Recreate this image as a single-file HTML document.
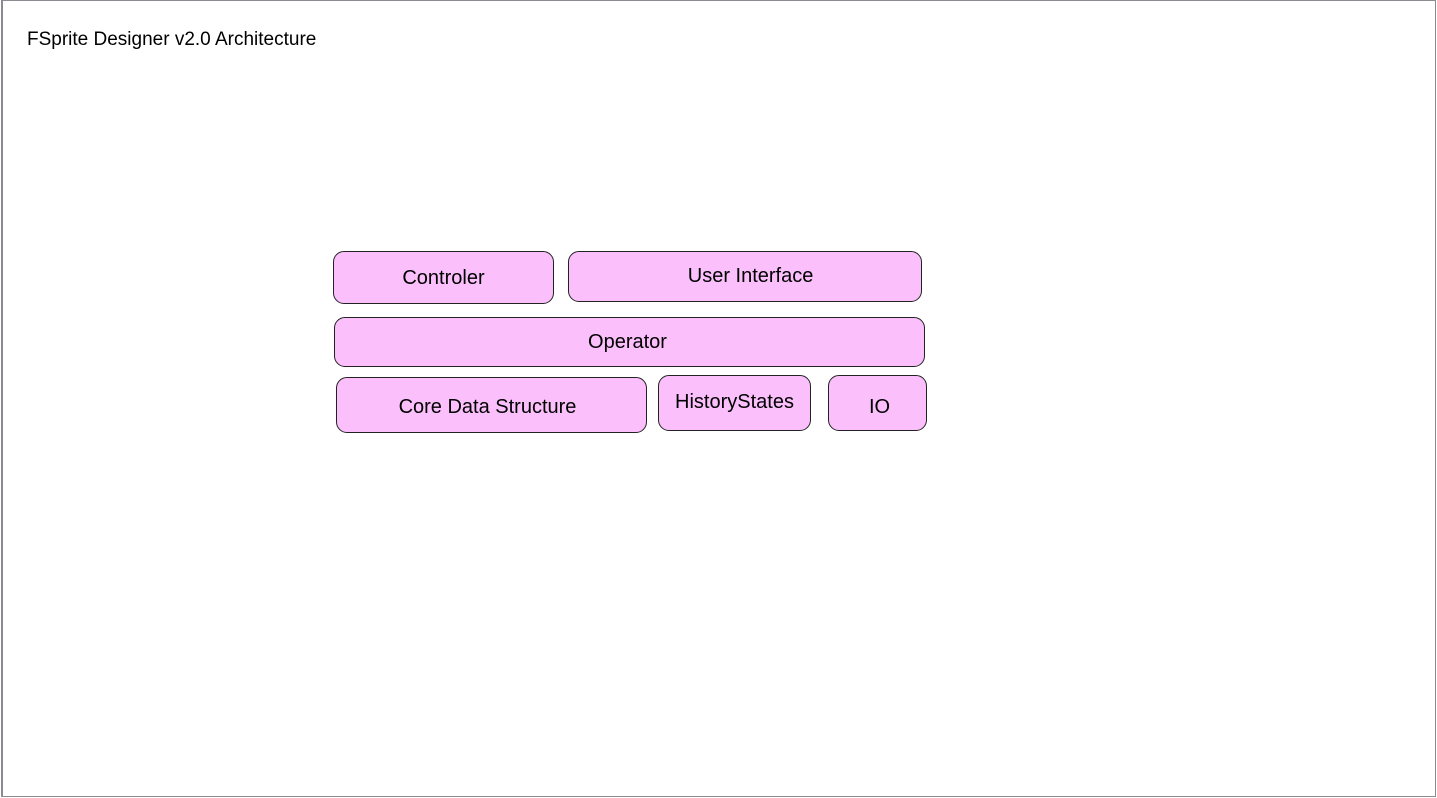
<!DOCTYPE html>
<html><head><style>
html,body{margin:0;padding:0;width:1437px;height:798px;background:#fff;overflow:hidden;position:relative;font-family:"Liberation Sans",sans-serif}
.frame{position:absolute;left:1px;top:0;width:1432px;height:795px;border:1px solid #8a8a90;border-left-width:2px;border-top-width:1px}
.t{position:absolute;left:27px;top:29px;font-size:19px;color:#000}
.b{position:absolute;box-sizing:border-box;background:#fbc0fb;border:1px solid #222;border-radius:11px;display:flex;align-items:center;justify-content:center;font-size:20px;color:#000}
</style></head><body>
<div class="frame"></div>
<div class="t">FSprite Designer v2.0 Architecture</div>
<div class="b" style="left:333px;top:251px;width:221px;height:53px;padding-top:2px">Controler</div>
<div class="b" style="left:568px;top:251px;width:354px;height:51px">&nbsp;&nbsp;User Interface</div>
<div class="b" style="left:334px;top:317px;width:591px;height:50px;padding-right:4px;padding-top:1px">Operator</div>
<div class="b" style="left:336px;top:377px;width:311px;height:56px;padding-right:8px;padding-top:4px">Core Data Structure</div>
<div class="b" style="left:658px;top:375px;width:153px;height:56px;align-items:flex-start;padding-top:15px">HistoryStates</div>
<div class="b" style="left:828px;top:375px;width:99px;height:56px;padding-top:9px;padding-left:4px">IO</div>
</body></html>
